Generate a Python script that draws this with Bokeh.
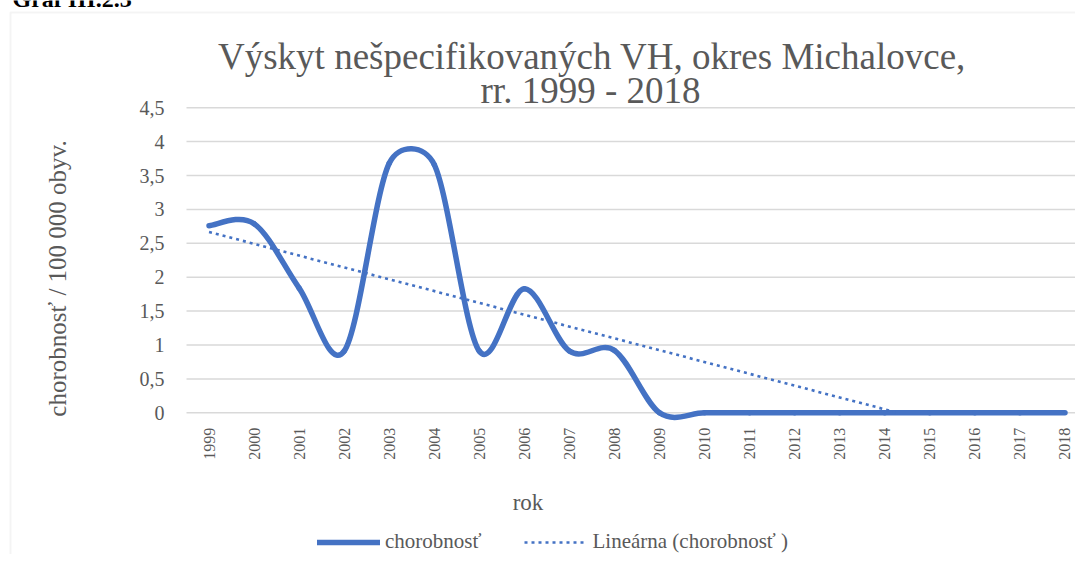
import numpy as np
from bokeh.plotting import figure
from bokeh.models import Range1d, FixedTicker, Label, Legend, LegendItem, BoxAnnotation, LinearAxis
from bokeh.embed import file_html
from bokeh.resources import INLINE

# ---------------- data ----------------
years = list(range(1999, 2019))
year_labels = [str(y) for y in years]
rate = [2.76, 2.79, 1.84, 0.91, 3.68, 3.66, 0.91, 1.83, 0.91, 0.92,
        0, 0, 0, 0, 0, 0, 0, 0, 0, 0]
y_ticks = [0, 0.5, 1, 1.5, 2, 2.5, 3, 3.5, 4, 4.5]
y_tick_labels = ["0", "0,5", "1", "1,5", "2", "2,5", "3", "3,5", "4", "4,5"]
caption = "Graf III.2.3"
title_line1 = "Výskyt nešpecifikovaných VH, okres Michalovce,"
title_line2 = "rr. 1999 - 2018"
y_title = "chorobnosť / 100 000 obyv."
x_title = "rok"
series_name = "chorobnosť"
trend_name = "Lineárna (chorobnosť )"

# ---------------- geometry (canvas pixels, y down) ----------------
W, H = 1075, 554
PL = 186                    # plot-area left
XA = 1998.5                 # category span start
SX = 45.05                  # pixels per category
X0 = XA - PL / SX
X1 = X0 + W / SX
Y_ZERO_PX = 412.3           # pixel row of value 0
SY = 67.8                   # pixels per unit
Y0 = -(H - Y_ZERO_PX) / SY
Y1 = Y_ZERO_PX / SY
BASE = 0.38                 # label anchor to baseline shift (fraction of font size)


def dx(px):
    return X0 + px / SX


def dy(py):
    return Y1 - py / SY


BLUE = "#4472C4"
GRAY = "#595959"
GRID = "#d9d9d9"
FONT = "Liberation Serif"

p = figure(width=W, height=H, output_backend="svg", toolbar_location=None,
           x_range=Range1d(X0, X1), y_range=Range1d(Y0, Y1),
           x_axis_type=None, y_axis_type=None,
           min_border=0, min_border_left=0, min_border_right=0,
           min_border_top=0, min_border_bottom=0)
p.outline_line_color = None
p.background_fill_color = "white"
p.border_fill_color = "white"
p.xgrid.visible = False
p.ygrid.visible = False

# outer chart border (left and top edges visible)
p.add_layout(BoxAnnotation(left=dx(10), right=X1 + 5, top=dy(12), bottom=Y0 - 5,
                           fill_color=None, line_color=GRID, line_width=2))

# horizontal gridlines over the plot area
p.segment(x0=[XA] * len(y_ticks), y0=y_ticks, x1=[X1 + 1] * len(y_ticks), y1=y_ticks,
          line_color=GRID, line_width=1.5)

# axes (fixed inside the canvas)
xax = LinearAxis(fixed_location=0)
xax.ticker = FixedTicker(ticks=years)
xax.major_label_overrides = {y: l for y, l in zip(years, year_labels)}
xax.major_label_orientation = np.pi / 2
xax.major_label_text_font = FONT
xax.major_label_text_font_size = "16px"
xax.major_label_text_color = GRAY
xax.major_label_standoff = 15
xax.axis_line_color = None
xax.major_tick_line_color = None
xax.minor_tick_line_color = None
xax.major_tick_out = 0
xax.major_tick_in = 0
p.add_layout(xax, "below")

yax = LinearAxis(fixed_location=XA)
yax.ticker = FixedTicker(ticks=y_ticks)
yax.major_label_overrides = {t: l for t, l in zip(y_ticks, y_tick_labels)}
yax.major_label_text_font = FONT
yax.major_label_text_font_size = "20px"
yax.major_label_text_color = GRAY
yax.major_label_standoff = 22
yax.axis_line_color = None
yax.major_tick_line_color = None
yax.minor_tick_line_color = None
yax.major_tick_out = 0
yax.major_tick_in = 0
p.add_layout(yax, "left")

# ---------------- smoothed series (Excel-like bezier) ----------------
def smooth_segments(xs, ys):
    P = [np.array([x * SX, y * SY]) for x, y in zip(xs, ys)]
    n = len(P)
    out = {k: [] for k in ["x0", "y0", "x1", "y1", "cx0", "cy0", "cx1", "cy1"]}
    for i in range(n - 1):
        p0 = P[i - 1] if i > 0 else P[i]
        p1, p2 = P[i], P[i + 1]
        p3 = P[i + 2] if i + 2 < n else P[i + 1]
        d02 = np.linalg.norm(p2 - p0)
        d12 = np.linalg.norm(p2 - p1)
        d13 = np.linalg.norm(p3 - p1)
        f1 = f2 = 1.0 / 6.0
        if d02 > 0 and d02 / 6 > d12 / 2:
            f1 = d12 / 2 / d02
        if d13 > 0 and d13 / 6 > d12 / 2:
            f2 = d12 / 2 / d13
        c1 = p1 + f1 * (p2 - p0)
        c2 = p2 - f2 * (p3 - p1)
        out["x0"].append(p1[0] / SX); out["y0"].append(p1[1] / SY)
        out["x1"].append(p2[0] / SX); out["y1"].append(p2[1] / SY)
        out["cx0"].append(c1[0] / SX); out["cy0"].append(c1[1] / SY)
        out["cx1"].append(c2[0] / SX); out["cy1"].append(c2[1] / SY)
    return out


seg = smooth_segments(years, rate)
p.bezier(x0=seg["x0"], y0=seg["y0"], x1=seg["x1"], y1=seg["y1"],
         cx0=seg["cx0"], cy0=seg["cy0"], cx1=seg["cx1"], cy1=seg["cy1"],
         line_color=BLUE, line_width=5.5, line_cap="round")

# linear trend (clipped at the value-axis minimum 0)
slope, intercept = np.polyfit(np.array(years, dtype=float), np.array(rate), 1)
x_zero = -intercept / slope
x_end = min(years[-1], x_zero)
tx = [years[0], x_end]
ty = [slope * x + intercept for x in tx]
r_trend = p.line(tx, ty, line_color=BLUE, line_width=2.6, line_dash="3 4")

# legend proxy for the smoothed line (single point: draws nothing itself)
r_main = p.line([years[0]], [rate[0]], line_color=BLUE, line_width=5.5, line_cap="round")
legend = Legend(items=[LegendItem(label=series_name, renderers=[r_main]),
                       LegendItem(label=trend_name, renderers=[r_trend])],
                orientation="horizontal", location=(317, 0),
                padding=0, margin=0, spacing=43, label_standoff=5,
                glyph_width=63, glyph_height=22, label_height=22,
                border_line_color=None, background_fill_alpha=0,
                label_text_font=FONT, label_text_font_size="21px",
                label_text_color=GRAY)
p.add_layout(legend)


def hlabel(text, cx, baseline, size, align="center", color=GRAY, style="normal"):
    p.add_layout(Label(x=dx(cx), y=dy(baseline - BASE * size), text=text,
                       text_align=align, text_baseline="alphabetic",
                       text_font=FONT, text_font_style=style,
                       text_font_size=f"{size}px", text_color=color))


# texts
hlabel(caption, 12, 7.5, 24, align="left", color="black", style="bold")
hlabel(title_line1, 591.5, 70, 37)
hlabel(title_line2, 590, 104, 37)
hlabel(x_title, 527.5, 511, 23)
p.add_layout(Label(x=dx(66.7 - BASE * 25), y=dy(278), text=y_title, angle=np.pi / 2,
                   text_align="center", text_baseline="alphabetic",
                   text_font=FONT, text_font_size="25px", text_color=GRAY))

open("out.html", "w").write(file_html(p, INLINE))
